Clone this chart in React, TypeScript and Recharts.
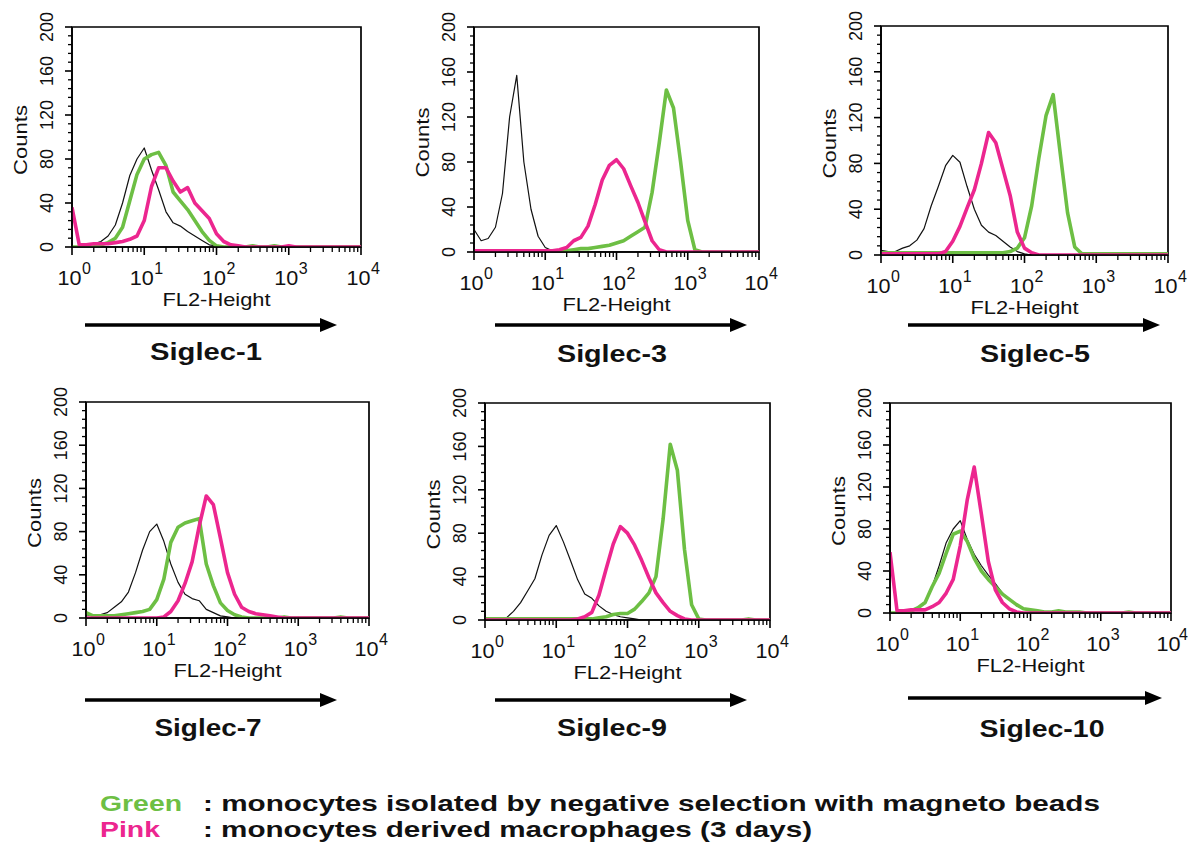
import React from 'react';
import { LineChart, Line, XAxis, YAxis, Label, ReferenceArea } from 'recharts';

// ---------- data ----------
// FL2-Height channel values (log grid, 0.1 decade steps, 10^0 .. 10^4)
const FL2_VALUES = [
  1, 1.26, 1.58, 2, 2.51, 3.16, 3.98, 5.01, 6.31, 7.94,
  10, 12.6, 15.8, 20, 25.1, 31.6, 39.8, 50.1, 63.1, 79.4,
  100, 126, 158, 200, 251, 316, 398, 501, 631, 794,
  1000, 1259, 1585, 1995, 2512, 3162, 3981, 5012, 6310, 7943,
  10000,
];

const PANEL_TITLES = ['Siglec-1', 'Siglec-3', 'Siglec-5', 'Siglec-7', 'Siglec-9', 'Siglec-10'];

// Siglec-1
const black1 = [0,0,2,3,5,10,20,40,65,80, 90,70,52,32,22,19,14,10,6,2, 1,0,0,0,0,0,0,0,0,0, 0,0,0,0,0,0,0,0,0,0, 0];
const green1 = [0,0,0,0,2,4,8,18,42,66, 80,84,86,74,50,42,34,24,14,6, 1,0,0,0,0,1,0,0,1,0, 0,0,0,0,0,0,0,0,0,0, 0];
const pink1 = [36,2,2,3,3,3,4,5,7,10, 24,55,72,72,60,50,54,40,33,26, 12,5,2,1,0,0,0,0,0,0, 1,0,0,0,0,0,0,0,0,0, 0];
// Siglec-3
const black2 = [20,10,12,22,52,120,157,80,38,14, 4,1,0,0,0,0,0,0,0,0, 0,0,0,0,0,0,0,0,0,0, 0,0,0,0,0,0,0,0,0,0, 0];
const green2 = [1,1,1,1,1,1,1,1,1,1, 1,1,1,1,2,3,3,4,5,6, 8,10,14,18,22,53,97,144,128,80, 28,2,0,0,0,0,0,0,0,0, 0];
const pink2 = [1,1,1,1,1,1,1,1,1,1, 1,1,2,4,10,13,23,42,64,77, 82,74,59,44,27,10,2,0,0,0, 0,0,0,0,0,0,0,0,0,0, 0];
// Siglec-5
const black3 = [4,3,3,6,8,13,23,43,60,78, 87,81,60,40,26,20,17,12,7,3, 1,0,0,0,0,0,0,0,0,0, 0,0,0,0,0,0,0,0,0,0, 0];
const green3 = [2,2,2,2,2,2,2,2,2,2, 2,2,2,2,2,2,2,2,3,6, 15,43,84,122,140,88,37,7,1,1, 1,1,1,1,1,1,1,1,1,1, 1];
const pink3 = [1,1,1,1,1,1,1,1,1,3, 12,25,41,57,80,107,98,75,52,20, 6,2,0,0,0,0,0,0,0,0, 0,0,0,0,0,0,0,0,0,0, 0];
// Siglec-7
const black4 = [3,2,3,5,10,15,24,42,63,80, 87,71,50,33,22,18,16,8,5,2, 1,0,0,0,0,0,0,0,0,0, 0,0,0,0,0,0,0,0,0,0, 0];
const green4 = [5,2,2,2,2,3,4,5,6,8, 17,36,70,84,88,90,92,50,30,14, 7,3,1,0,0,0,0,0,1,0, 0,0,0,0,0,0,1,0,0,0, 0];
const pink4 = [0,0,0,0,0,0,0,0,0,0, 0,1,6,16,32,52,85,113,105,74, 42,22,10,6,4,3,2,1,0,0, 0,0,0,0,0,0,0,0,0,0, 0];
// Siglec-9
const black5 = [1,0,1,2,8,16,27,38,60,78, 87,72,55,37,24,20,13,8,5,3, 2,1,0,0,0,0,0,0,0,0, 0,0,0,0,0,0,0,0,0,0, 0];
const green5 = [1,1,1,1,1,1,1,1,1,1, 1,1,1,1,1,1,2,3,5,6, 6,10,17,25,40,93,162,138,65,14, 1,0,0,0,0,0,0,1,0,0, 0];
const pink5 = [0,0,0,0,0,0,0,0,0,0, 0,0,0,1,3,7,23,47,70,86, 80,69,55,39,25,16,8,4,1,0, 0,0,0,0,0,0,0,0,0,0, 0];
// Siglec-10
const black6 = [0,0,1,3,5,9,25,45,67,80, 88,70,56,45,36,28,19,13,7,4, 2,1,0,0,0,0,0,0,0,0, 0,0,0,0,0,0,0,0,0,0, 0];
const green6 = [0,0,1,2,5,10,25,38,57,75, 78,68,52,40,32,25,18,13,8,4, 3,2,1,1,2,1,1,1,0,0, 0,0,0,0,1,0,0,0,0,0, 0];
const pink6 = [58,2,2,3,3,3,6,10,19,32, 64,108,139,94,49,22,10,4,1,0, 0,0,0,0,0,0,0,0,0,0, 0,0,0,0,0,0,0,0,0,0, 0];

const SERIES = [
  [black1, green1, pink1],
  [black2, green2, pink2],
  [black3, green3, pink3],
  [black4, green4, pink4],
  [black5, green5, pink5],
  [black6, green6, pink6],
];

// axis ticks
const MAJOR_X_TICKS = [1, 10, 100, 1000, 10000];
const X_TICK_EXPONENTS = ['0', '1', '2', '3', '4'];
const MINOR_X_TICKS = [
  2, 3, 4, 5, 6, 7, 8, 9,
  20, 30, 40, 50, 60, 70, 80, 90,
  200, 300, 400, 500, 600, 700, 800, 900,
  2000, 3000, 4000, 5000, 6000, 7000, 8000, 9000,
];
const Y_TICKS = [0, 40, 80, 120, 160, 200];
const MINOR_Y_TICKS = [
  8, 16, 24, 32, 48, 56, 64, 72, 88, 96, 104, 112,
  128, 136, 144, 152, 168, 176, 184, 192,
];
const ALL_X_TICKS = [...MAJOR_X_TICKS, ...MINOR_X_TICKS].sort((a, b) => a - b);
const ALL_Y_TICKS = [...Y_TICKS, ...MINOR_Y_TICKS].sort((a, b) => a - b);

const LEGEND_LINES = [
  { key: 'Green', text: ': monocytes isolated by negative selection with magneto beads' },
  { key: 'Pink', text: ': monocytes derived macrophages (3 days)' },
];

// ---------- styling / layout ----------
const FONT = '"Liberation Sans", Arial, Helvetica, sans-serif';
const GREEN = '#6dbf44';
const PINK = '#ec268f';
const INK = '#111';

const PAGE_W = 1188;
const Y_AXIS_W = 75;
const X_AXIS_H = 70;
const M_TOP = 26;
const M_RIGHT = 24;

// plot rectangles (page px)
const PANEL_BOXES = [
  { x: 72, y: 27, w: 289, h: 220 },
  { x: 474, y: 27, w: 285, h: 225 },
  { x: 881, y: 26, w: 287, h: 229 },
  { x: 86, y: 402, w: 283, h: 216 },
  { x: 485, y: 403, w: 285, h: 217 },
  { x: 890, y: 403, w: 281, h: 210 },
];
const TITLE_POS = [
  { cx: 206, by: 360, len: 112 },
  { cx: 612, by: 362, len: 110 },
  { cx: 1035, by: 362, len: 110 },
  { cx: 208, by: 736, len: 107 },
  { cx: 612, by: 736, len: 110 },
  { cx: 1042, by: 737, len: 125 },
];
const ARROW_POS = [
  { x1: 85, x2: 337, y: 325 },
  { x1: 495, x2: 747, y: 325 },
  { x1: 908, x2: 1160, y: 325 },
  { x1: 85, x2: 337, y: 700 },
  { x1: 495, x2: 747, y: 700 },
  { x1: 908, x2: 1162, y: 698 },
];

const XTick = (props: any) => {
  const { x, y, payload, maxX } = props;
  const idx = MAJOR_X_TICKS.indexOf(payload.value);
  const major = idx >= 0;
  const ex = Math.min(x + 10, (maxX ?? 9999) - 9);
  return (
    <g>
      <line x1={x} y1={y} x2={x} y2={y + (major ? 8 : 5)} stroke="#000" strokeWidth={major ? 1.6 : 1.3} />
      {major && (
        <text x={x - 2.5} y={y + 38} textAnchor="middle" fontSize={21} fontFamily={FONT} fill={INK}
          textLength={24} lengthAdjust="spacingAndGlyphs">10</text>
      )}
      {major && (
        <text x={ex} y={y + 27} textAnchor="start" fontSize={16} fontFamily={FONT} fill={INK}>
          {X_TICK_EXPONENTS[idx]}
        </text>
      )}
    </g>
  );
};

const YTick = (props: any) => {
  const { x, y, payload } = props;
  const major = Y_TICKS.indexOf(payload.value) >= 0;
  const lx = x - 19;
  return (
    <g>
      <line x1={x} y1={y} x2={x - (major ? 7 : 4)} y2={y} stroke="#000" strokeWidth={major ? 1.6 : 1.3} />
      {major && (
        <text x={lx} y={y} transform={`rotate(-90, ${lx}, ${y})`} textAnchor="middle" fontSize={18}
          fontFamily={FONT} fill={INK}>{payload.value}</text>
      )}
    </g>
  );
};

const FL2Label = (props: any) => {
  const vb = props.viewBox || { x: 0, y: 0, width: 0, height: 0 };
  return (
    <text x={vb.x + vb.width / 2} y={vb.y + 59} textAnchor="middle" fontSize={19} fontFamily={FONT}
      fill={INK} textLength={108} lengthAdjust="spacingAndGlyphs">FL2-Height</text>
  );
};

const CountsLabel = (props: any) => {
  const vb = props.viewBox || { x: 0, y: 0, width: 0, height: 0 };
  const bx = vb.x + vb.width - 45;
  const cy = vb.y + vb.height / 2 + 3;
  return (
    <text x={bx} y={cy} transform={`rotate(-90, ${bx}, ${cy})`} textAnchor="middle" fontSize={18}
      fontFamily={FONT} fill={INK} textLength={70} lengthAdjust="spacingAndGlyphs">Counts</text>
  );
};

function Panel({ box, series }: { box: { x: number; y: number; w: number; h: number }; series: number[][] }) {
  const [black, green, pink] = series;
  const data = FL2_VALUES.map((x, i) => ({ x, black: black[i], green: green[i], pink: pink[i] }));
  const width = Y_AXIS_W + box.w + M_RIGHT;
  const height = M_TOP + box.h + X_AXIS_H;
  const left = box.x - Y_AXIS_W;
  const maxX = PAGE_W - left;
  const axisStroke = { stroke: '#000', strokeWidth: 1.6 };
  return (
    <div style={{ position: 'absolute', left, top: box.y - M_TOP }}>
      <LineChart width={width} height={height} data={data}
        margin={{ top: M_TOP, right: M_RIGHT, bottom: 0, left: 0 }}>
        <XAxis xAxisId="main" dataKey="x" type="number" scale="log" domain={[1, 10000]} allowDataOverflow
          ticks={ALL_X_TICKS} interval={0} tick={<XTick maxX={maxX} />} tickSize={0} tickMargin={0} tickLine={false}
          height={X_AXIS_H} axisLine={axisStroke}>
          <Label content={FL2Label} />
        </XAxis>
        <YAxis yAxisId="main" type="number" domain={[0, 200]} allowDataOverflow ticks={ALL_Y_TICKS}
          interval={0} tick={<YTick />} tickSize={0} tickMargin={0} tickLine={false} width={Y_AXIS_W}
          axisLine={axisStroke}>
          <Label content={CountsLabel} />
        </YAxis>
        <ReferenceArea xAxisId="main" yAxisId="main" x1={1} x2={10000} y1={0} y2={200} fill="none"
          fillOpacity={0} stroke="#000" strokeWidth={1.7} ifOverflow="visible" />
        <Line xAxisId="main" yAxisId="main" type="linear" dataKey="black" stroke={INK} strokeWidth={1.2}
          dot={false} isAnimationActive={false} strokeLinejoin="round" />
        <Line xAxisId="main" yAxisId="main" type="linear" dataKey="green" stroke={GREEN} strokeWidth={3.6}
          dot={false} isAnimationActive={false} strokeLinejoin="round" />
        <Line xAxisId="main" yAxisId="main" type="linear" dataKey="pink" stroke={PINK} strokeWidth={3.6}
          dot={false} isAnimationActive={false} strokeLinejoin="round" />
      </LineChart>
    </div>
  );
}

export default function App() {
  return (
    <div style={{ position: 'absolute', left: 0, top: 0, width: PAGE_W, height: 854, background: '#fff', overflow: 'hidden' }}>
      {PANEL_BOXES.map((box, i) => (
        <Panel key={PANEL_TITLES[i]} box={box} series={SERIES[i]} />
      ))}
      <svg width={PAGE_W} height={854} style={{ position: 'absolute', left: 0, top: 0, pointerEvents: 'none' }}>
        {ARROW_POS.map((a, i) => (
          <g key={'arrow' + i}>
            <line x1={a.x1} y1={a.y} x2={a.x2 - 12} y2={a.y} stroke="#000" strokeWidth={3.5} />
            <polygon points={`${a.x2},${a.y} ${a.x2 - 17},${a.y - 7} ${a.x2 - 17},${a.y + 7}`} fill="#000" />
          </g>
        ))}
        {TITLE_POS.map((t, i) => (
          <text key={'title' + i} x={t.cx} y={t.by} textAnchor="middle" fontSize={23} fontWeight="bold"
            fontFamily={FONT} fill={INK} textLength={t.len} lengthAdjust="spacingAndGlyphs">{PANEL_TITLES[i]}</text>
        ))}
        <text x={100} y={811} fontSize={22} fontWeight="bold" fontFamily={FONT} fill={GREEN} textLength={82}
          lengthAdjust="spacingAndGlyphs">{LEGEND_LINES[0].key}</text>
        <text x={203} y={811} fontSize={22} fontWeight="bold" fontFamily={FONT} fill={INK} textLength={897}
          lengthAdjust="spacingAndGlyphs">{LEGEND_LINES[0].text}</text>
        <text x={100} y={837} fontSize={22} fontWeight="bold" fontFamily={FONT} fill={PINK} textLength={60}
          lengthAdjust="spacingAndGlyphs">{LEGEND_LINES[1].key}</text>
        <text x={203} y={837} fontSize={22} fontWeight="bold" fontFamily={FONT} fill={INK} textLength={609}
          lengthAdjust="spacingAndGlyphs">{LEGEND_LINES[1].text}</text>
      </svg>
    </div>
  );
}
